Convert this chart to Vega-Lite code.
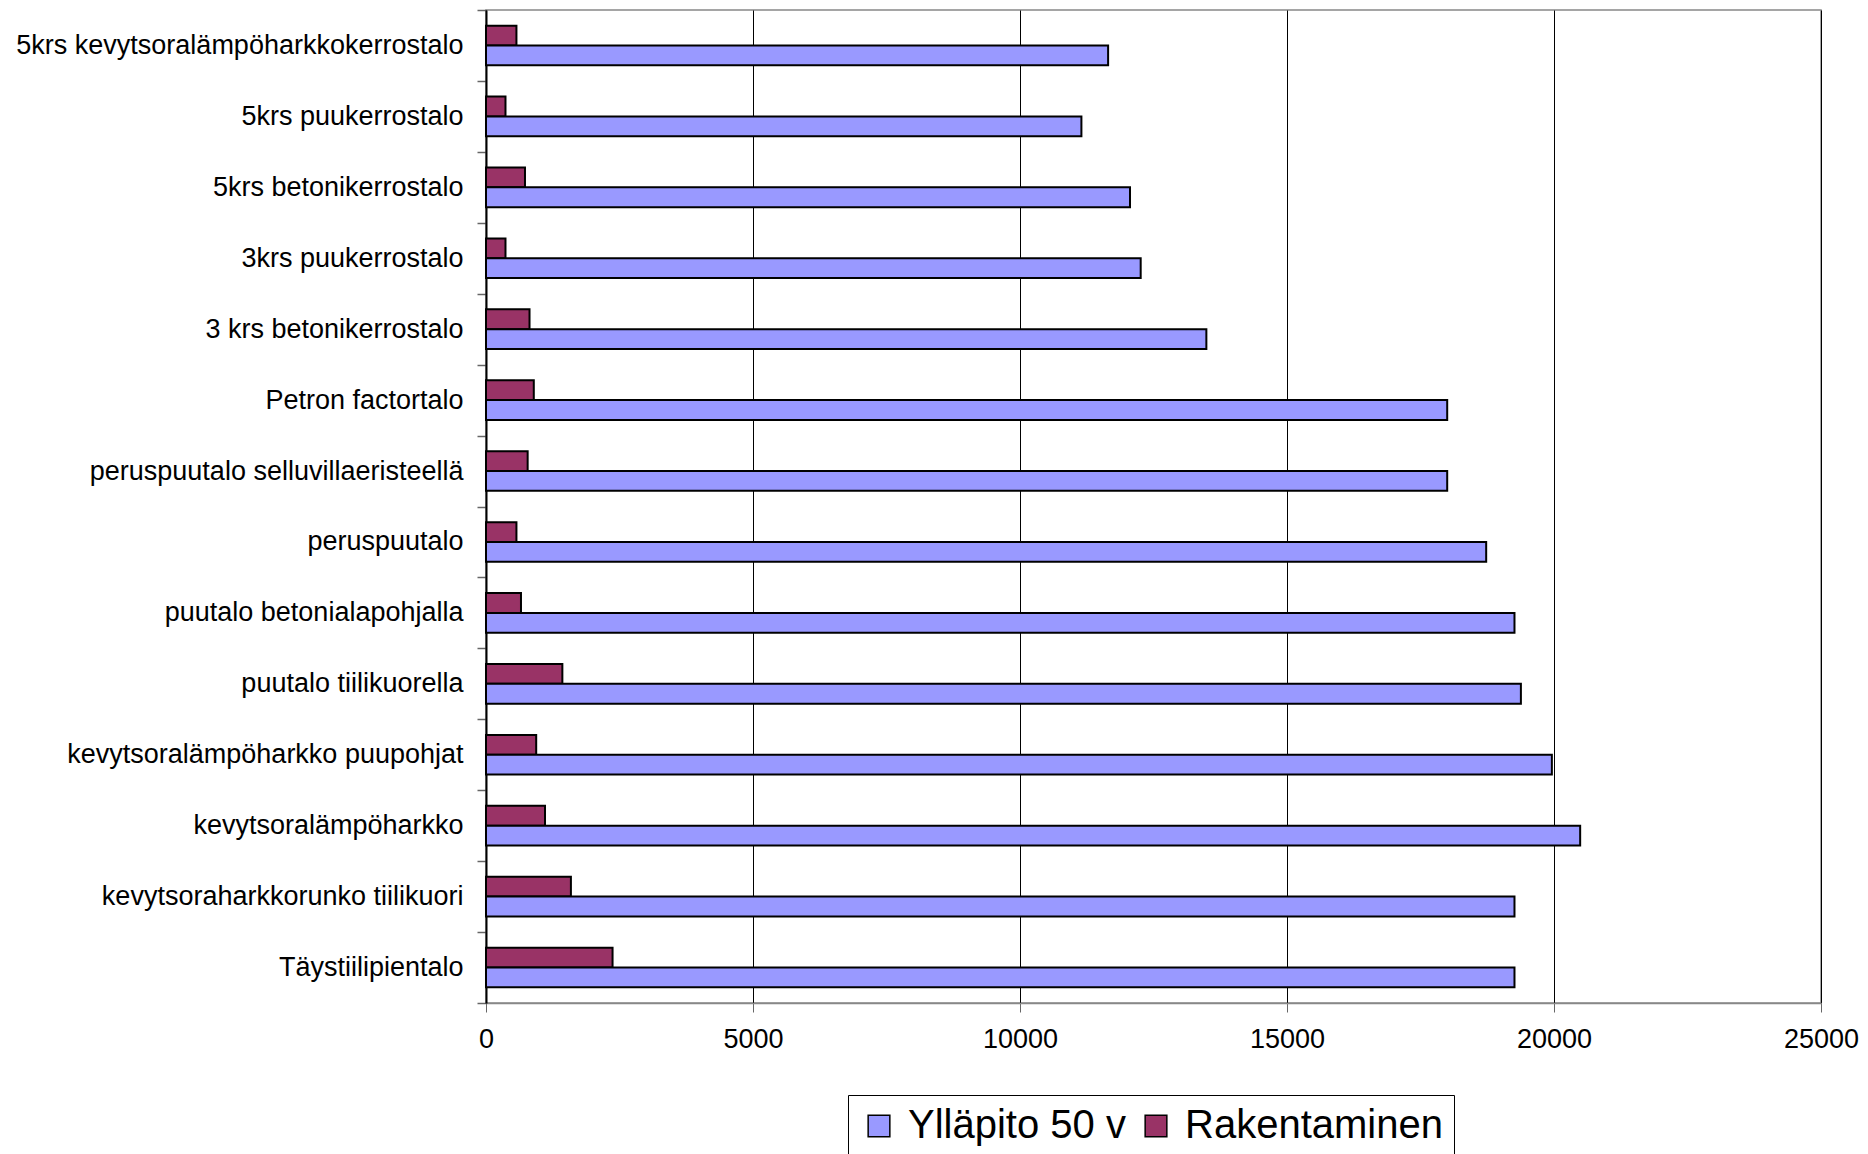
{
  "$schema": "https://vega.github.io/schema/vega-lite/v6.json",
  "width": 1335,
  "height": 993,
  "autosize": {"type": "none"},
  "padding": {"left": 486, "top": 10, "right": 47, "bottom": 151},
  "background": "white",
  "config": {"font": "Liberation Sans", "view": {"stroke": "#888888", "strokeWidth": 1.5}},
  "data": {"values": [
    {"talo": "5krs kevytsoralämpöharkkokerrostalo", "sarja": "Rakentaminen", "arvo": 570},
    {"talo": "5krs kevytsoralämpöharkkokerrostalo", "sarja": "Ylläpito 50 v", "arvo": 11650},
    {"talo": "5krs puukerrostalo", "sarja": "Rakentaminen", "arvo": 365},
    {"talo": "5krs puukerrostalo", "sarja": "Ylläpito 50 v", "arvo": 11150},
    {"talo": "5krs betonikerrostalo", "sarja": "Rakentaminen", "arvo": 730},
    {"talo": "5krs betonikerrostalo", "sarja": "Ylläpito 50 v", "arvo": 12060},
    {"talo": "3krs puukerrostalo", "sarja": "Rakentaminen", "arvo": 365},
    {"talo": "3krs puukerrostalo", "sarja": "Ylläpito 50 v", "arvo": 12260},
    {"talo": "3 krs betonikerrostalo", "sarja": "Rakentaminen", "arvo": 815},
    {"talo": "3 krs betonikerrostalo", "sarja": "Ylläpito 50 v", "arvo": 13490},
    {"talo": "Petron factortalo", "sarja": "Rakentaminen", "arvo": 895},
    {"talo": "Petron factortalo", "sarja": "Ylläpito 50 v", "arvo": 18000},
    {"talo": "peruspuutalo selluvillaeristeellä", "sarja": "Rakentaminen", "arvo": 780},
    {"talo": "peruspuutalo selluvillaeristeellä", "sarja": "Ylläpito 50 v", "arvo": 18000},
    {"talo": "peruspuutalo", "sarja": "Rakentaminen", "arvo": 570},
    {"talo": "peruspuutalo", "sarja": "Ylläpito 50 v", "arvo": 18730},
    {"talo": "puutalo betonialapohjalla", "sarja": "Rakentaminen", "arvo": 655},
    {"talo": "puutalo betonialapohjalla", "sarja": "Ylläpito 50 v", "arvo": 19260},
    {"talo": "puutalo tiilikuorella", "sarja": "Rakentaminen", "arvo": 1430},
    {"talo": "puutalo tiilikuorella", "sarja": "Ylläpito 50 v", "arvo": 19380},
    {"talo": "kevytsoralämpöharkko puupohjat", "sarja": "Rakentaminen", "arvo": 940},
    {"talo": "kevytsoralämpöharkko puupohjat", "sarja": "Ylläpito 50 v", "arvo": 19960},
    {"talo": "kevytsoralämpöharkko", "sarja": "Rakentaminen", "arvo": 1105},
    {"talo": "kevytsoralämpöharkko", "sarja": "Ylläpito 50 v", "arvo": 20490},
    {"talo": "kevytsoraharkkorunko tiilikuori", "sarja": "Rakentaminen", "arvo": 1590},
    {"talo": "kevytsoraharkkorunko tiilikuori", "sarja": "Ylläpito 50 v", "arvo": 19260},
    {"talo": "Täystiilipientalo", "sarja": "Rakentaminen", "arvo": 2370},
    {"talo": "Täystiilipientalo", "sarja": "Ylläpito 50 v", "arvo": 19260}
  ]},
  "mark": {"type": "bar", "stroke": "black", "strokeWidth": 2},
  "encoding": {
    "y": {
      "field": "talo", "type": "nominal", "sort": null,
      "scale": {"paddingInner": 0, "paddingOuter": 0},
      "axis": {"title": null, "tickBand": "extent", "tickSize": 9, "tickColor": "#666666", "tickWidth": 1.5,
               "domainColor": "black", "domainWidth": 2, "labelFontSize": 27, "labelColor": "black",
               "labelPadding": 14, "labelLimit": 700, "grid": false}
    },
    "yOffset": {
      "field": "sarja", "type": "nominal", "sort": ["Rakentaminen", "Ylläpito 50 v"],
      "scale": {"paddingInner": 0, "paddingOuter": 0.79}
    },
    "x": {
      "field": "arvo", "type": "quantitative",
      "scale": {"domain": [0, 25000], "nice": false},
      "axis": {"title": null, "values": [0, 5000, 10000, 15000, 20000, 25000], "format": "d",
               "grid": true, "gridColor": "black", "gridWidth": 1, "tickSize": 9, "tickColor": "#666666",
               "domainColor": "#888888", "domainWidth": 1.5, "labelFontSize": 27, "labelColor": "black",
               "labelPadding": 14, "labelFlush": false, "labelOverlap": false}
    },
    "color": {
      "field": "sarja", "type": "nominal",
      "scale": {"domain": ["Ylläpito 50 v", "Rakentaminen"], "range": ["#9999FF", "#993366"]},
      "legend": {"title": null, "orient": "none", "legendX": 362, "legendY": 1085, "direction": "horizontal",
                 "strokeColor": "black", "fillColor": "white", "padding": 11, "labelFontSize": 40,
                 "labelColor": "black", "symbolType": "square", "symbolSize": 470,
                 "symbolStrokeColor": "black", "symbolStrokeWidth": 1.5, "labelOffset": 9,
                 "columnSpacing": 8, "labelLimit": 400}
    }
  }
}
